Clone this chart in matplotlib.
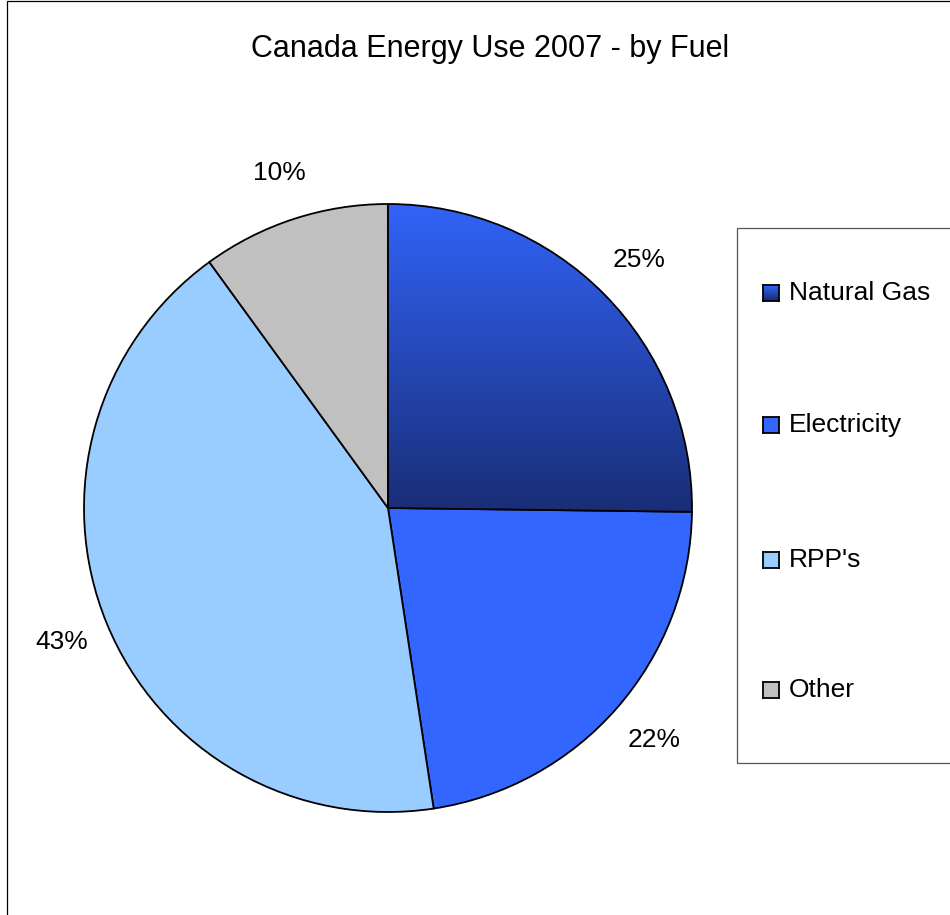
import numpy as np
import matplotlib
matplotlib.use("Agg")
import matplotlib.pyplot as plt
from matplotlib.patches import Rectangle
from matplotlib.colors import LinearSegmentedColormap

plt.rcParams['font.family'] = ['Liberation Sans', 'DejaVu Sans']

fuels = ["Natural Gas", "Electricity", "RPP's", "Other"]
shares = [25.2, 22.4, 42.4, 10.0]
pct_labels = ["25%", "22%", "43%", "10%"]
colors = ["#2a4cc4", "#3366ff", "#99ccff", "#c0c0c0"]
gas_top, gas_bottom = "#3366ff", "#17296b"

W, H = 950, 915
fig = plt.figure(figsize=(W / 100, H / 100), dpi=100)

# outer chart frame (only the left and top edges are visible)
fig.patches.append(Rectangle((7 / W, -0.1), 1.2, 1.1 - 1.5 / H, transform=fig.transFigure,
                             fill=False, edgecolor="black", linewidth=0.9))

cx, cy, r = 388, 508, 304
ax = fig.add_axes([(cx - r) / W, (H - cy - r) / H, 2 * r / W, 2 * r / H])
ax.axis("off")

wedges, texts = ax.pie(shares, labels=pct_labels, colors=colors, startangle=90, counterclock=False,
                       radius=1, labeldistance=1.16,
                       wedgeprops=dict(edgecolor="black", linewidth=1.3),
                       textprops=dict(fontsize=19, color="black"))
for t in texts:
    t.set_horizontalalignment("center")
    t.set_verticalalignment("center")

# gradient fill for natural gas slice (light at top, dark navy at bottom)
cmap = LinearSegmentedColormap.from_list("gas", [gas_bottom, gas_top])
grad = np.linspace(0, 1, 256).reshape(-1, 1)
im = ax.imshow(grad, cmap=cmap, extent=[0, 1.05, -0.1, 1.05], origin="lower", aspect="auto", zorder=1.5)
im.set_clip_path(wedges[0])
wedges[0].set_facecolor("none")
wedges[0].set_zorder(2)
ax.set_xlim(-1, 1)
ax.set_ylim(-1, 1)

# title
fig.text(490 / W, 1 - 57 / H, "Canada Energy Use 2007 - by Fuel", ha="center", va="baseline", fontsize=22)

# legend box
fig.patches.append(Rectangle((737 / W, 1 - 763 / H), 0.5, (763 - 228) / H, transform=fig.transFigure,
                             fill=False, edgecolor="#555555", linewidth=0.9))
legend_y = [293, 425, 560, 690]
for i, (name, y) in enumerate(zip(fuels, legend_y)):
    sw = fig.add_axes([763 / W, 1 - (y + 8) / H, 16 / W, 16 / H])
    if i == 0:
        sw.imshow(grad, cmap=cmap, extent=[0, 1, 0, 1], origin="lower", aspect="auto")
    else:
        sw.set_facecolor(colors[i])
    sw.set_xticks([])
    sw.set_yticks([])
    for s in sw.spines.values():
        s.set_linewidth(1.3)
    fig.text(789 / W, 1 - y / H, name, ha="left", va="center", fontsize=19)

fig.savefig("out.png", dpi=100)
